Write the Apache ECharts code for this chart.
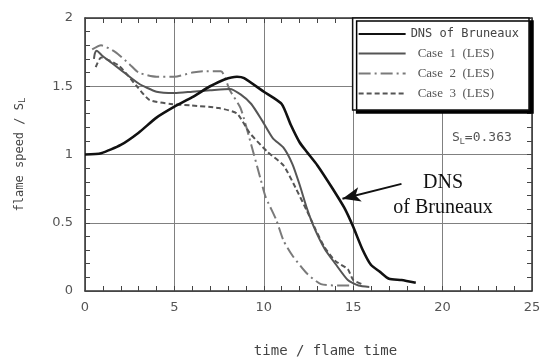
<!DOCTYPE html>
<html><head><meta charset="utf-8">
<script src="https://cdn.jsdelivr.net/npm/echarts@6/dist/echarts.min.js"></script>
<style>html,body{margin:0;padding:0;background:#fff}#c{width:547px;height:363px}</style>
</head><body><div id="c"></div>
<script>
const xTicks = [0, 5, 10, 15, 20, 25];
const yTicks = [0, 0.5, 1, 1.5, 2];

const dnsX = [0, 0.9, 2.0, 3.0, 4.0, 5.0, 6.0, 7.0, 7.8, 8.5, 8.9, 10.0, 11.0, 11.5, 12.0, 12.4, 13.0, 13.8, 14.5, 15.0, 15.5, 16.0, 16.5, 17.0, 17.7, 18.5];
const dnsY = [1.0, 1.01, 1.07, 1.16, 1.27, 1.35, 1.42, 1.50, 1.55, 1.57, 1.56, 1.46, 1.37, 1.22, 1.09, 1.02, 0.92, 0.76, 0.61, 0.47, 0.31, 0.19, 0.14, 0.09, 0.08, 0.06];

const case1X = [0.5, 0.55, 0.65, 1.0, 1.5, 2.0, 3.0, 4.0, 5.0, 6.0, 7.0, 8.1, 8.7, 9.3, 9.9, 10.5, 11.1, 11.6, 12.0, 12.4, 12.8, 13.4, 14.0, 14.7, 15.3, 15.9];
const case1Y = [1.70, 1.74, 1.76, 1.72, 1.67, 1.62, 1.52, 1.46, 1.45, 1.46, 1.47, 1.48, 1.44, 1.37, 1.25, 1.12, 1.05, 0.93, 0.78, 0.61, 0.47, 0.31, 0.20, 0.08, 0.04, 0.03];

const case2X = [0.4, 0.9, 1.7, 2.5, 3.0, 4.0, 5.0, 6.0, 6.6, 7.6, 8.1, 8.7, 9.3, 9.8, 10.1, 10.7, 11.1, 11.6, 12.4, 13.2, 14.2, 14.8];
const case2Y = [1.77, 1.80, 1.75, 1.66, 1.60, 1.57, 1.57, 1.60, 1.61, 1.61, 1.47, 1.34, 1.07, 0.83, 0.69, 0.52, 0.37, 0.26, 0.13, 0.05, 0.04, 0.04];

const case3X = [0.6, 0.9, 1.9, 2.9, 3.6, 4.8, 5.9, 7.5, 8.5, 9.2, 10.2, 11.1, 11.8, 12.4, 12.9, 13.4, 14.0, 14.7, 15.0, 15.5];
const case3Y = [1.64, 1.71, 1.65, 1.50, 1.40, 1.37, 1.36, 1.34, 1.30, 1.16, 1.02, 0.92, 0.75, 0.59, 0.45, 0.32, 0.22, 0.16, 0.08, 0.05];

const seriesNames = ['DNS of Bruneaux', 'Case 1 (LES)', 'Case 2 (LES)', 'Case 3 (LES)'];
const arrowFrom = [17.7, 0.785];
const arrowTo = [14.4, 0.676];

const pairs = (xs, ys) => xs.map((x, i) => [x, ys[i]]);

const axisCommon = {
  type: 'value',
  axisLine: { show: true, onZero: false, lineStyle: { color: '#333', width: 1.5 } },
  axisTick: { show: true, inside: true, length: 5, lineStyle: { color: '#444', width: 1 } },
  minorTick: { show: true, splitNumber: 5, length: 5, lineStyle: { color: '#444', width: 1 } },
};

const chart = echarts.init(document.getElementById('c'), null, { renderer: 'canvas' });
chart.setOption({
  animation: false,
  backgroundColor: '#fff',
  grid: { left: 85, right: 15, top: 18, bottom: 70 },
  xAxis: [
    Object.assign({}, axisCommon, {
      min: xTicks[0], max: xTicks[xTicks.length - 1], interval: 5,
      axisLabel: { color: '#555', fontSize: 13, fontFamily: 'DejaVu Sans', margin: 10 },
      splitLine: { show: true, lineStyle: { color: '#808080', width: 1 } },
      name: 'time / flame time', nameLocation: 'middle', nameGap: 53,
      nameTextStyle: { color: '#444', fontSize: 14, fontFamily: 'DejaVu Sans Mono', padding: [0, 0, 0, 34] }
    }),
    Object.assign({}, axisCommon, {
      position: 'top', min: xTicks[0], max: xTicks[xTicks.length - 1], interval: 5,
      axisLabel: { show: false }, splitLine: { show: false }
    })
  ],
  yAxis: [
    Object.assign({}, axisCommon, {
      min: yTicks[0], max: yTicks[yTicks.length - 1], interval: 0.5,
      axisLabel: { color: '#555', fontSize: 13, fontFamily: 'DejaVu Sans', margin: 12 },
      splitLine: { show: true, lineStyle: { color: '#808080', width: 1 } },
      name: 'flame speed / S{s|L}', nameLocation: 'middle', nameGap: 58, nameRotate: 90,
      nameTextStyle: { color: '#444', fontSize: 12, fontFamily: 'DejaVu Sans Mono',
        rich: { s: { fontSize: 9, fontFamily: 'DejaVu Sans Mono', color: '#444', verticalAlign: 'bottom', padding: [6, 0, 0, 0] } } }
    }),
    Object.assign({}, axisCommon, {
      position: 'right', min: yTicks[0], max: yTicks[yTicks.length - 1], interval: 0.5,
      axisLabel: { show: false }, splitLine: { show: false }
    })
  ],
  legend: {
    orient: 'vertical', right: 18, top: 18,
    data: seriesNames,
    backgroundColor: '#fff', borderColor: '#111', borderWidth: 1.5,
    shadowColor: '#000', shadowBlur: 0, shadowOffsetX: 4, shadowOffsetY: 3,
    padding: [10, 10, 10, 5], itemGap: 7, itemWidth: 47, itemHeight: 12,
    itemStyle: { opacity: 0 },
    textStyle: { color: '#444', fontSize: 13, fontFamily: 'Liberation Serif',
      rich: { m: { fontSize: 12, fontFamily: 'DejaVu Sans Mono', color: '#444' },
              c: { fontSize: 13, fontFamily: 'Liberation Serif', color: '#555', padding: [0, 0, 0, 7] } } },
    formatter: n => n === seriesNames[0] ? '{m|' + n + '}' : '{c|' + n.replace(/ /g, '  ') + '}'
  },
  graphic: [
    { type: 'text', left: 452, top: 131, z: 10,
      style: { text: 'S{s|L}=0.363', fill: '#555', font: '13px "DejaVu Sans Mono"',
        rich: { s: { fontSize: 9, fill: '#555', padding: [8, 0, 0, 0] } } } },
    { type: 'text', x: 443, y: 170, z: 10,
      style: { text: 'DNS\nof Bruneaux', fill: '#111', font: '20px "Liberation Serif"', align: 'center', verticalAlign: 'top', lineHeight: 25 } }
  ],
  series: [
    { name: seriesNames[0], type: 'line', data: pairs(dnsX, dnsY), symbol: 'none', smooth: 0.2,
      lineStyle: { color: '#111', width: 2.6 }, itemStyle: { color: '#111' }, z: 5,
      markLine: { silent: true, symbol: ['none', 'arrow'], symbolSize: [11, 18], label: { show: false },
        lineStyle: { color: '#111', width: 2, type: 'solid' },
        data: [[{ coord: arrowFrom }, { coord: arrowTo }]] } },
    { name: seriesNames[1], type: 'line', data: pairs(case1X, case1Y), symbol: 'none', smooth: 0.2,
      lineStyle: { color: '#555', width: 2 }, itemStyle: { color: '#555' }, z: 4 },
    { name: seriesNames[2], type: 'line', data: pairs(case2X, case2Y), symbol: 'none', smooth: 0.2,
      lineStyle: { color: '#7a7a7a', width: 2, type: [12, 4, 2, 4] }, itemStyle: { color: '#7a7a7a' }, z: 3 },
    { name: seriesNames[3], type: 'line', data: pairs(case3X, case3Y), symbol: 'none', smooth: 0.2,
      lineStyle: { color: '#555', width: 2, type: [5, 3] }, itemStyle: { color: '#555' }, z: 3 }
  ]
});
</script></body></html>
